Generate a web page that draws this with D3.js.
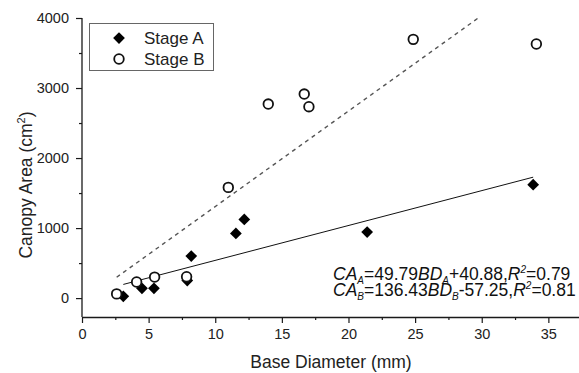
<!DOCTYPE html>
<html>
<head>
<meta charset="utf-8">
<script src="https://cdn.jsdelivr.net/npm/d3@7"></script>
<style>
  body { margin: 0; background: #fff; }
  svg { display: block; font-family: Arial, "Liberation Sans", sans-serif; }
</style>
</head>
<body>
<div class="container"></div>
<script>
// base diameter (mm), canopy area (cm2)
const stageA = [[3.1, 25], [4.5, 140], [5.4, 140], [7.9, 250], [8.2, 600],
                [11.55, 924], [12.18, 1124], [21.4, 943], [33.86, 1620]]
const stageB = [[2.6, 60], [4.1, 230], [5.45, 300], [7.85, 305], [10.98, 1581],
                [13.98, 2771], [16.68, 2914], [17.03, 2733], [24.86, 3695], [34.1, 3629]]
const fitA = [49.79, 40.88]   // slope, intercept
const fitB = [136.43, -57.25]

const xTicks = [0, 5, 10, 15, 20, 25, 30, 35]
const xMinor = [2.5, 7.5, 12.5, 17.5, 22.5, 27.5, 32.5, 37.5]
const yTicks = [0, 1000, 2000, 3000, 4000]
const yMinor = [500, 1500, 2500, 3500]
const legendLabels = ["Stage A", "Stage B"]

const w = 579
const h = 373

const x = d3.scaleLinear().domain([0, 37.6]).range([82, 583])
const y = d3.scaleLinear().domain([-270, 4000]).range([317, 18])

const svg = d3.select(".container")
  .append("svg")
  .attr("width", w)
  .attr("height", h)

svg.append("clipPath").attr("id", "plot")
  .append("rect")
  .attr("x", 82).attr("y", 18).attr("width", 500).attr("height", 299)

const ink = "#1a1a1a"

// axes
const xAxis = svg.append("g")
  .attr("transform", "translate(0,317)")
  .call(d3.axisBottom(x).tickValues(xTicks).tickFormat(d3.format("d"))
    .tickSize(6).tickSizeOuter(0).tickPadding(6))
svg.append("g")
  .attr("transform", "translate(0,317)")
  .call(d3.axisBottom(x).tickValues(xMinor).tickSize(3).tickFormat(""))
  .select(".domain").remove()

const yAxis = svg.append("g")
  .attr("transform", "translate(82,0)")
  .call(d3.axisLeft(y).tickValues(yTicks).tickFormat(d3.format("d"))
    .tickSize(6).tickSizeOuter(0).tickPadding(7))
svg.append("g")
  .attr("transform", "translate(82,0)")
  .call(d3.axisLeft(y).tickValues(yMinor).tickSize(3).tickFormat(""))
  .select(".domain").remove()

// y axis line only from the corner to 4000
yAxis.select(".domain").attr("d", "M0," + y(4000) + "V317")

svg.selectAll(".tick line").attr("stroke", ink).attr("stroke-width", 1.2)
svg.selectAll(".domain").attr("stroke", ink).attr("stroke-width", 1.3)
svg.selectAll(".tick text").attr("fill", "#222").style("font-size", "14.5px")

// axis titles
svg.append("text")
  .attr("x", 331).attr("y", 368)
  .attr("text-anchor", "middle")
  .style("font-size", "17.5px").attr("fill", "#222")
  .text("Base Diameter (mm)")

const yt = svg.append("text")
  .attr("transform", "translate(32,185) rotate(-90)")
  .attr("text-anchor", "middle")
  .style("font-size", "17.5px").attr("fill", "#222")
yt.append("tspan").text("Canopy Area (cm")
yt.append("tspan").attr("dy", -7).style("font-size", "11px").text("2")
yt.append("tspan").attr("dy", 7).text(")")

// fitted lines
function fitLine(data, fit) {
  const ext = d3.extent(data, d => d[0])
  return [[ext[0], fit[0] * ext[0] + fit[1]], [ext[1], fit[0] * ext[1] + fit[1]]]
}
const line = d3.line().x(d => x(d[0])).y(d => y(d[1]))

const plot = svg.append("g").attr("clip-path", "url(#plot)")
plot.append("path")
  .attr("d", line(fitLine(stageA, fitA)))
  .attr("fill", "none").attr("stroke", "#111").attr("stroke-width", 1)
plot.append("path")
  .attr("d", line(fitLine(stageB, fitB)))
  .attr("fill", "none").attr("stroke", "#555").attr("stroke-width", 1.4)
  .attr("stroke-dasharray", "4,4")

// markers
const diamond = d3.symbol().type(d3.symbolDiamond2).size(88)
svg.selectAll(".ptA")
  .data(stageA)
  .enter()
  .append("path")
  .attr("class", "ptA")
  .attr("d", diamond)
  .attr("transform", d => "translate(" + x(d[0]) + "," + y(d[1]) + ")")
  .attr("fill", "#000")

svg.selectAll(".ptB")
  .data(stageB)
  .enter()
  .append("circle")
  .attr("class", "ptB")
  .attr("cx", d => x(d[0]))
  .attr("cy", d => y(d[1]))
  .attr("r", 4.8)
  .attr("fill", "#fff")
  .attr("stroke", "#111")
  .attr("stroke-width", 1.8)

// legend
const lg = svg.append("g")
lg.append("rect")
  .attr("x", 89.5).attr("y", 23.5).attr("width", 124).attr("height", 47)
  .attr("fill", "#fff").attr("stroke", "#666").attr("stroke-width", 1)
lg.append("path").attr("d", diamond).attr("transform", "translate(119,38)").attr("fill", "#000")
lg.append("circle").attr("cx", 119).attr("cy", 59).attr("r", 4.8)
  .attr("fill", "#fff").attr("stroke", "#111").attr("stroke-width", 1.8)
lg.selectAll(".lt")
  .data(legendLabels)
  .enter()
  .append("text")
  .attr("x", 144)
  .attr("y", (d, i) => 44 + i * 21)
  .style("font-size", "17px").attr("fill", "#222")
  .text(d => d)

// equations
const eqs = [
  [["CA", "i"], ["A", "sub"], ["=49.79", ""], ["BD", "i"], ["A", "sub"], ["+40.88,", ""], ["R", "i"], ["2", "sup"], ["=0.79", ""]],
  [["CA", "i"], ["B", "sub"], ["=136.43", ""], ["BD", "i"], ["B", "sub"], ["-57.25,", ""], ["R", "i"], ["2", "sup"], ["=0.81", ""]]
]
eqs.forEach((parts, k) => {
  const t = svg.append("text")
    .attr("x", 333).attr("y", 280 + k * 16)
    .style("font-size", "17.5px").attr("fill", "#111")
  let shift = 0
  parts.forEach(p => {
    const s = t.append("tspan").text(p[0])
    let target = 0
    if (p[1] == "sub") target = 4
    if (p[1] == "sup") target = -7
    s.attr("dy", target - shift)
    shift = target
    if (p[1] != "") s.style("font-style", "italic")
    if (p[1] == "sub" || p[1] == "sup") s.style("font-size", "10px")
  })
})
</script>
</body>
</html>
